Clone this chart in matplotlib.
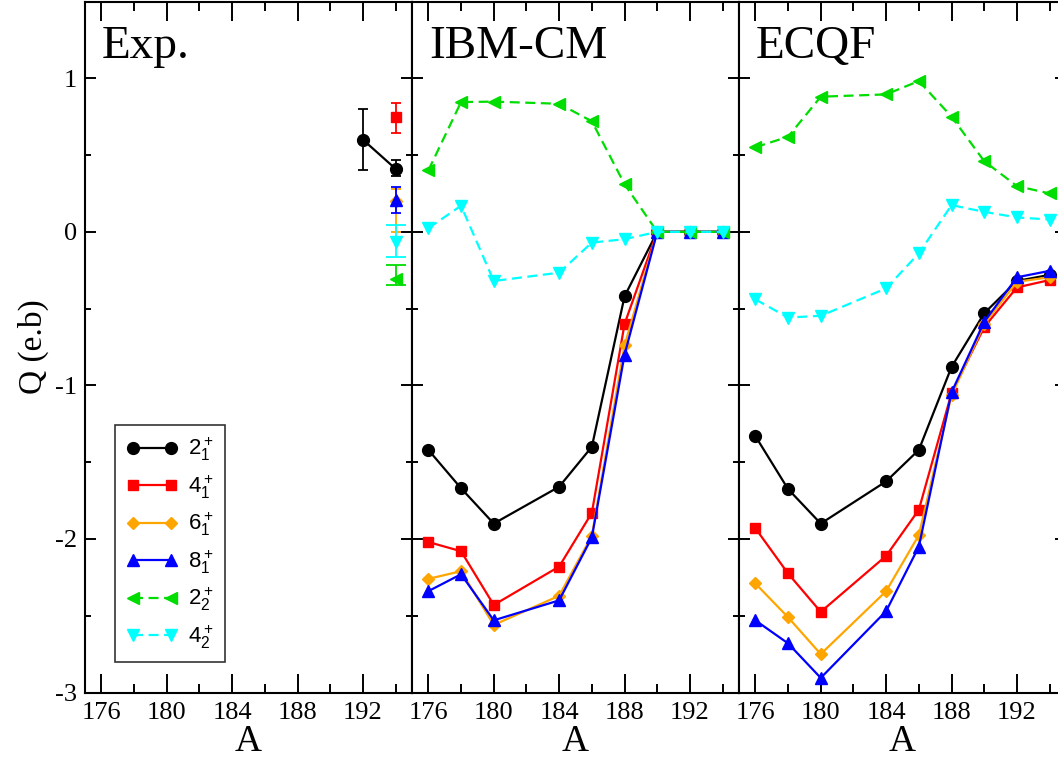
import matplotlib
matplotlib.use("Agg")
import matplotlib.pyplot as plt
from matplotlib.ticker import MultipleLocator

plt.rcParams['axes.unicode_minus'] = False
plt.rcParams['mathtext.fontset'] = 'custom'
plt.rcParams['mathtext.rm'] = 'Liberation Sans'
plt.rcParams['mathtext.it'] = 'Liberation Sans:italic'
plt.rcParams['mathtext.bf'] = 'Liberation Sans:bold'

SERIF = 'Liberation Serif'

# ---- data -------------------------------------------------------------
mass = [176, 178, 180, 184, 186, 188, 190, 192, 194]

# experiment (A, Q, err_low, err_high)
exp_2_1_A = [192, 194]
exp_2_1_Q = [0.60, 0.41]
exp_2_1_lo = [0.20, 0.045]
exp_2_1_hi = [0.20, 0.055]

exp_4_1_A = [194]
exp_4_1_Q = [0.75]
exp_4_1_lo = [0.105]
exp_4_1_hi = [0.09]

exp_6_1_A = [194]
exp_6_1_Q = [0.20]
exp_6_1_lo = [0.20]
exp_6_1_hi = [0.08]

exp_8_1_A = [194]
exp_8_1_Q = [0.21]
exp_8_1_lo = [0.09]
exp_8_1_hi = [0.085]

exp_2_2_A = [194]
exp_2_2_Q = [-0.31]
exp_2_2_lo = [0.037]
exp_2_2_hi = [0.093]

exp_4_2_A = [194]
exp_4_2_Q = [-0.065]
exp_4_2_lo = [0.10]
exp_4_2_hi = [0.11]

# IBM-CM
ibm_2_1 = [-1.42, -1.67, -1.90, -1.66, -1.40, -0.42, 0.0, 0.0, 0.0]
ibm_4_1 = [-2.02, -2.08, -2.43, -2.18, -1.83, -0.60, 0.0, 0.0, 0.0]
ibm_6_1 = [-2.26, -2.21, -2.56, -2.37, -1.98, -0.74, 0.0, 0.0, 0.0]
ibm_8_1 = [-2.34, -2.23, -2.53, -2.40, -1.99, -0.80, 0.0, 0.0, 0.0]
ibm_2_2 = [0.40, 0.845, 0.848, 0.834, 0.72, 0.31, 0.0, 0.0, 0.0]
ibm_4_2 = [0.024, 0.17, -0.32, -0.266, -0.07, -0.048, 0.0, 0.0, 0.0]

# ECQF
ecqf_2_1 = [-1.33, -1.675, -1.90, -1.625, -1.42, -0.88, -0.53, -0.32, -0.28]
ecqf_4_1 = [-1.93, -2.225, -2.475, -2.11, -1.81, -1.05, -0.62, -0.362, -0.314]
ecqf_6_1 = [-2.29, -2.51, -2.75, -2.34, -1.975, -1.065, -0.60, -0.325, -0.296]
ecqf_8_1 = [-2.53, -2.68, -2.905, -2.47, -2.05, -1.045, -0.586, -0.296, -0.254]
ecqf_2_2 = [0.551, 0.619, 0.88, 0.895, 0.982, 0.75, 0.46, 0.298, 0.25]
ecqf_4_2 = [-0.44, -0.558, -0.547, -0.368, -0.14, 0.174, 0.13, 0.094, 0.08]

panel_titles = ['Exp.', 'IBM-CM', 'ECQF']
state_labels = [r'$2_1^+$', r'$4_1^+$', r'$6_1^+$', r'$8_1^+$', r'$2_2^+$', r'$4_2^+$']
x_ticks = [176, 180, 184, 188, 192]
y_ticks = [-3, -2, -1, 0, 1]

# ---- styles -------------------------------------------------------------
styles = [
    dict(color='black', marker='o', ms=8.5, ls='-'),
    dict(color='red', marker='s', ms=7.5, ls='-'),
    dict(color='orange', marker='D', ms=6, ls='-'),
    dict(color='blue', marker='^', ms=8.5, ls='-'),
    dict(color='#00dd00', marker='<', ms=8.5, ls=(0, (4.5, 2.5))),
    dict(color='cyan', marker='v', ms=8.5, ls=(0, (4.5, 2.5))),
]
LW = 1.6

fig = plt.figure(figsize=(10.58, 7.61), dpi=100)
ax_left = 85 / 1058
ax_w = 327 / 1058
ax_bottom = 1 - 692.5 / 761
ax_h = 691 / 761
axes = [fig.add_axes([ax_left + i * ax_w, ax_bottom, ax_w, ax_h]) for i in range(3)]

for i, ax in enumerate(axes):
    ax.set_xlim(175, 195)
    ax.set_ylim(-3, 1.5)
    ax.set_xticks(x_ticks)
    ax.set_yticks(y_ticks)
    ax.xaxis.set_minor_locator(MultipleLocator(2))
    ax.yaxis.set_minor_locator(MultipleLocator(0.5))
    ax.tick_params(axis='both', which='both', direction='in', top=True, right=True,
                   width=1.4, color='black')
    ax.tick_params(axis='x', which='major', length=13.5, pad=7)
    ax.tick_params(axis='x', which='minor', length=6.5)
    ax.tick_params(axis='y', which='major', length=8, pad=6)
    ax.tick_params(axis='y', which='minor', length=4.3)
    for lab in ax.get_xticklabels() + ax.get_yticklabels():
        lab.set_fontfamily(SERIF)
        lab.set_fontsize(19)
    if i > 0:
        ax.set_yticklabels([])
    for sp in ax.spines.values():
        sp.set_linewidth(1.5)
    ax.set_xlabel('A', fontsize=27, fontfamily=SERIF, labelpad=0)
    ax.text(0.052, 0.918, panel_titles[i], transform=ax.transAxes, fontsize=34,
            fontfamily=SERIF, va='baseline', ha='left')

axes[0].set_ylabel('Q (e.b)', fontsize=24, fontfamily=SERIF, labelpad=4)

# ---- experiment panel ----------------------------------------------------
ax = axes[0]
exp_sets = [
    (exp_2_1_A, exp_2_1_Q, exp_2_1_lo, exp_2_1_hi, 3.6),
    (exp_4_1_A, exp_4_1_Q, exp_4_1_lo, exp_4_1_hi, 3.6),
    (exp_6_1_A, exp_6_1_Q, exp_6_1_lo, exp_6_1_hi, 3.4),
    (exp_8_1_A, exp_8_1_Q, exp_8_1_lo, exp_8_1_hi, 3.6),
    (exp_2_2_A, exp_2_2_Q, exp_2_2_lo, exp_2_2_hi, 7.2),
    (exp_4_2_A, exp_4_2_Q, exp_4_2_lo, exp_4_2_hi, 7.2),
]
handles = []
for (xa, qa, lo, hi, cs), st, lab in zip(exp_sets, styles, state_labels):
    ax.errorbar(xa, qa, yerr=[lo, hi], fmt='none', ecolor=st['color'],
                elinewidth=1.3, capsize=cs, capthick=1.3)
    h, = ax.plot(xa, qa, color=st['color'], marker=st['marker'], ms=st['ms'],
                 ls=st['ls'], lw=LW, label=lab)
    handles.append(h)

leg = ax.legend(handles=handles, loc='lower left', bbox_to_anchor=(0.092, 0.044),
                borderaxespad=0, numpoints=2, handlelength=2.3, handletextpad=0.5,
                labelspacing=0.45, borderpad=0.5, fontsize=16, frameon=True,
                fancybox=False)
leg.get_frame().set_edgecolor('black')
leg.get_frame().set_linewidth(1.2)

# ---- model panels --------------------------------------------------------
for ax, series in ((axes[1], [ibm_2_1, ibm_4_1, ibm_6_1, ibm_8_1, ibm_2_2, ibm_4_2]),
                   (axes[2], [ecqf_2_1, ecqf_4_1, ecqf_6_1, ecqf_8_1, ecqf_2_2, ecqf_4_2])):
    for q, st in zip(series, styles):
        ax.plot(mass, q, color=st['color'], marker=st['marker'], ms=st['ms'],
                ls=st['ls'], lw=LW, clip_on=True)

fig.savefig('out.png', dpi=100)
